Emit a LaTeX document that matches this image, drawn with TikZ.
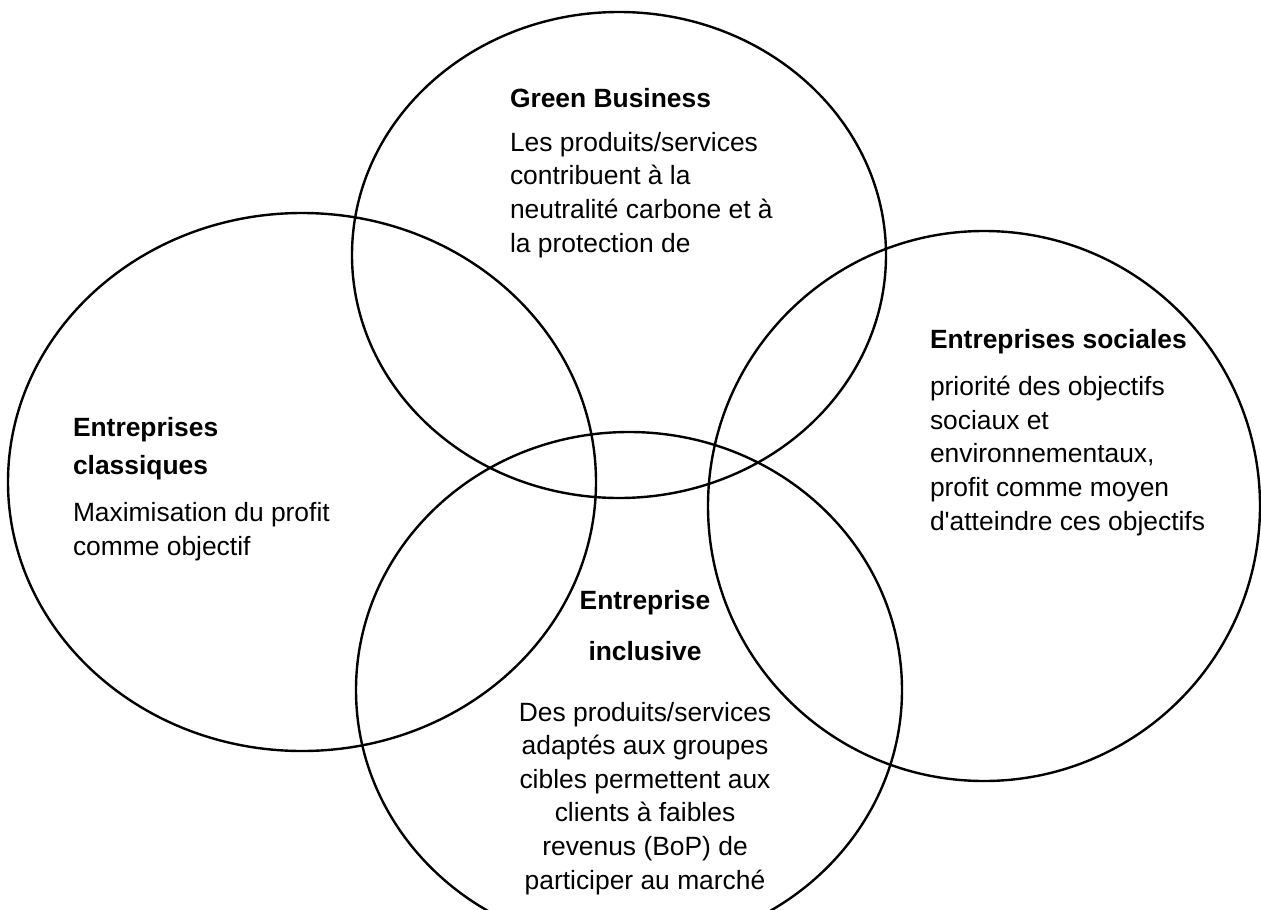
\documentclass[tikz,border=0pt]{standalone}
\usepackage{fontspec}
% plain family: keeps the straight apostrophe
\newfontfamily\labelfont{Liberation Sans}
\begin{document}
\begin{tikzpicture}[x=1pt,y=-1pt,
  ring/.style={draw=black,line width=2.4pt},
  txt/.style={inner sep=0pt,outer sep=0pt,font=\labelfont\fontsize{26.4}{33.6}\selectfont}]
\useasboundingbox (0,0) rectangle (1261,910);
\clip (0,0) rectangle (1261,910);

% the four overlapping business models
\draw[ring] (619,255) ellipse [x radius=267pt, y radius=243pt];
\draw[ring] (302,482) ellipse [x radius=294pt, y radius=269pt];
\draw[ring] (984,506) ellipse [x radius=276pt, y radius=275pt];
\draw[ring] (629,690) ellipse [x radius=273pt, y radius=258pt];

% Green Business (anchored on the baseline of its last line)
\node[txt,anchor=base west,align=left] (green) at (510,252)
  {\textbf{Green Business}\\[10pt]
   Les produits/services\\
   contribuent à la\\
   neutralité carbone et à\\
   la protection de};

% Entreprises classiques
\node[txt,anchor=base west,align=left] (classic) at (73,555)
  {\textbf{Entreprises}\\[4.4pt]
   \textbf{classiques}\\[13.4pt]
   Maximisation du profit\\
   comme objectif};

% Entreprises sociales
\node[txt,anchor=base west,align=left] (social) at (930,530)
  {\textbf{Entreprises sociales}\\[13.4pt]
   priorité des objectifs\\
   sociaux et\\
   environnementaux,\\
   profit comme moyen\\
   d'atteindre ces objectifs};

% Entreprise inclusive
\node[txt,anchor=base,align=center] (inclusive) at (645,889)
  {\textbf{Entreprise}\\[17.4pt]
   \textbf{inclusive}\\[27.4pt]
   Des produits/services\\
   adaptés aux groupes\\
   cibles permettent aux\\
   clients à faibles\\
   revenus (BoP) de\\
   participer au marché};
\end{tikzpicture}
\end{document}
